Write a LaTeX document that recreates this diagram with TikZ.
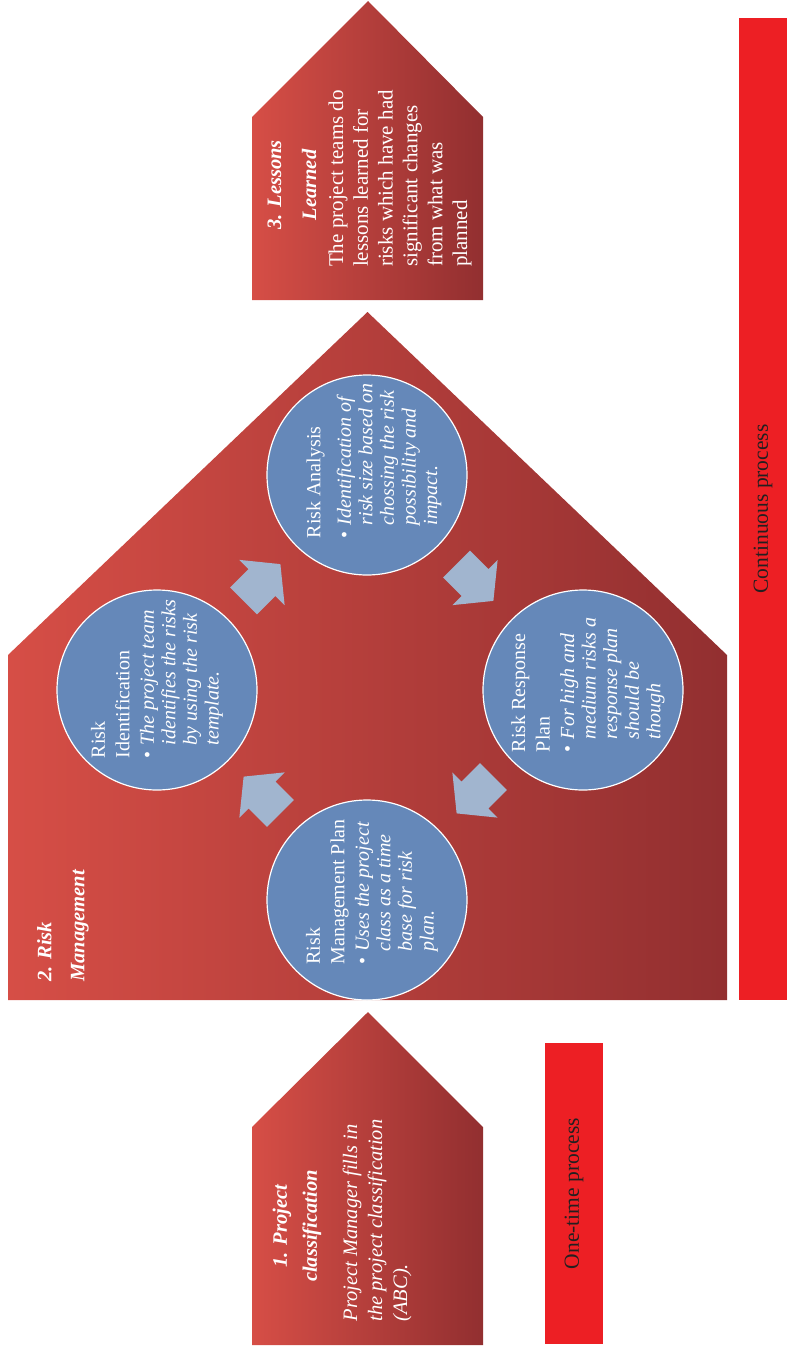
\documentclass[tikz,border=0pt]{standalone}
\usepackage{fontspec}
\setmainfont{Liberation Serif}
\usetikzlibrary{calc}
\definecolor{houselight}{RGB}{214,78,70}
\definecolor{housedark}{RGB}{146,47,48}
\definecolor{riskblue}{RGB}{101,136,185}
\definecolor{flowblue}{RGB}{161,181,207}
\definecolor{barred}{RGB}{237,31,36}
\definecolor{bartext}{RGB}{35,31,32}

\newcommand{\riskitem}[1]{\makebox[13pt][l]{\textbullet}{\itshape\renewcommand{\arraystretch}{0.88}\begin{tabular}[t]{@{}l@{}}#1\end{tabular}}}

\begin{document}
\begin{tikzpicture}[x=1pt, y=-1pt,
    house/.style={left color=houselight, right color=housedark, draw=none},
    riskcircle/.style={circle, fill=riskblue, draw=white, line width=1.2pt,
        minimum size=200pt, inner sep=0pt},
    circtext/.style={rotate=90, text=white, align=left, inner sep=0pt,
        font=\fontsize{20}{24.5}\selectfont},
    housetitle/.style={rotate=90, text=white, align=center, inner sep=0pt,
        font=\fontsize{20.5}{#1}\selectfont\bfseries\itshape},
    housebody/.style={rotate=90, text=white, align=left, inner sep=0pt,
        font=\fontsize{20.5}{25}\selectfont},
    procbar/.style={fill=barred, draw=none, inner sep=0pt},
    bartitle/.style={rotate=90, text=bartext, inner sep=0pt,
        font=\fontsize{21.5}{24}\selectfont},
    flowarrow/.style={fill=flowblue, draw=none}
]
    \useasboundingbox (0,0) rectangle (788,1349);

    % the three houses
    \path[house] (252,300) -- (252,117) -- (368,1) -- (483,117) -- (483,300) -- cycle;
    \path[house] (8,1000) -- (8,655) -- (367.5,312) -- (727,655) -- (727,1000) -- cycle;
    \path[house] (252,1345) -- (252,1127) -- (368,1012) -- (483,1127) -- (483,1345) -- cycle;

    % process bars
    \node[procbar, minimum width=48pt, minimum height=982pt] (contbar) at (763,509) {};
    \node[procbar, minimum width=58pt, minimum height=301pt] (onebar) at (574,1193.5) {};
    \node[bartitle] (contlabel) at (contbar) {Continuous process};
    \node[bartitle] (onelabel) at (onebar) {One-time process};

    % 3. lessons learned
    \node[housetitle=35] (lesstitle) at (292,185) {3. Lessons\\Learned};
    \node[housebody, font=\fontsize{21}{24.8}\selectfont] (lessbody) at (400,178.5) {The project teams do\\lessons learned for\\risks which have had\\significant changes\\from what was\\planned};

    % 2. risk management
    \node[housetitle=33, align=left] (mgmttitle) at (63,926) {2. Risk\\Management};

    \node[riskcircle] (anal) at (367,475) {};
    \node[riskcircle] (ident) at (157,690) {};
    \node[riskcircle] (resp) at (583,690) {};
    \node[riskcircle] (mgmt) at (367,900) {};

    \node[circtext] (analtext) at ($(anal)+(8,-14)$) {Risk Analysis\\[6pt]\riskitem{Identification of\\risk size based on\\chossing the risk\\possibility and\\impact.}};
    \node[circtext] (identtext) at ($(ident)+(1,-11)$) {Risk\\Identification\\\riskitem{The project team\\identifies the risks\\by using the risk\\template.}};
    \node[circtext] (resptext) at ($(resp)+(6,-5)$) {Risk Response\\Plan\\\riskitem{For high and\\medium risks a\\response plan\\should be\\though}};
    \node[circtext] (mgmttext) at ($(mgmt)+(6,-8)$) {Risk\\Management Plan\\\riskitem{Uses the project\\class as a time\\base for risk\\plan.}};

    \foreach \a/\b/\ang [count=\i] in {ident/anal/45, anal/resp/-45, resp/mgmt/-135, mgmt/ident/135}{
        \coordinate (flow\i) at ($(\a)!0.5!(\b)$);
        \begin{scope}[shift={(flow\i)}, rotate=\ang]
            \fill[flowarrow] (-26,-19) -- (0,-19) -- (0,-32) -- (26,0) -- (0,32) -- (0,19) -- (-26,19) -- cycle;
        \end{scope}
    }

    % 1. project classification
    \node[housetitle=30] (classtitle) at (297,1226) {1. Project\\classification};
    \node[housebody, font=\fontsize{20.5}{25}\selectfont\itshape] (classbody) at (377,1220.5) {Project Manager fills in\\the project classification\\(ABC).};
\end{tikzpicture}
\end{document}
